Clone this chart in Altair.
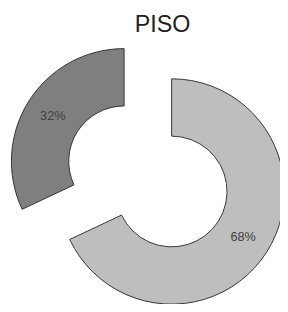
import altair as alt
import pandas as pd

labels = ["68%", "32%"]
values = [68, 32]
order = [0, 1]
colors = ["#bebebe", "#7f7f7f"]
title_text = ["PISO"]

df = pd.DataFrame({"label": labels, "value": values, "ord": order, "col": colors})

CX, CY = 144, 129
EXPLODE = 29
R_OUT, R_IN = 116, 57
R_LAB = 87

base = alt.Chart(df).transform_joinaggregate(
    total="sum(value)"
).transform_window(
    cum="sum(value)", sort=[alt.SortField("ord")], frame=[None, 0]
).transform_calculate(
    t0="(datum.cum - datum.value) / datum.total * 2 * PI",
    t1="datum.cum / datum.total * 2 * PI",
    mid="(datum.cum - datum.value / 2) / datum.total * 2 * PI",
).transform_calculate(
    px=f"{CX} + {EXPLODE} * sin(datum.mid)",
    py=f"{CY} - {EXPLODE} * cos(datum.mid)",
).transform_calculate(
    lx=f"datum.px + {R_LAB} * sin(datum.mid)",
    ly=f"datum.py - {R_LAB} * cos(datum.mid)",
)

arcs = base.mark_arc(
    outerRadius=R_OUT, innerRadius=R_IN, stroke="#333333", strokeWidth=1
).encode(
    theta=alt.Theta("t0:Q", scale=None),
    theta2="t1:Q",
    x=alt.X("px:Q", scale=None, axis=None),
    y=alt.Y("py:Q", scale=None, axis=None),
    fill=alt.Fill("col:N", scale=None, legend=None),
)

text = base.mark_text(
    fontSize=13, font="Liberation Sans", color="#404040", align="center", baseline="middle"
).encode(
    x=alt.X("lx:Q", scale=None, axis=None),
    y=alt.Y("ly:Q", scale=None, axis=None),
    text="label:N",
)

title = alt.Chart(pd.DataFrame({"t": title_text})).mark_text(
    fontSize=24, font="Liberation Sans", color="#222222", align="center", baseline="alphabetic"
).encode(
    x=alt.value(159),
    y=alt.value(-20),
    text="t:N",
)

chart = alt.layer(arcs, text, title).properties(
    width=272,
    height=256,
    padding={"top": 40, "left": 0, "right": 8, "bottom": 0},
    autosize=alt.AutoSizeParams(type="none"),
).configure_view(stroke=None)

chart.save("out.html", embed_options={"renderer": "svg", "actions": False})
